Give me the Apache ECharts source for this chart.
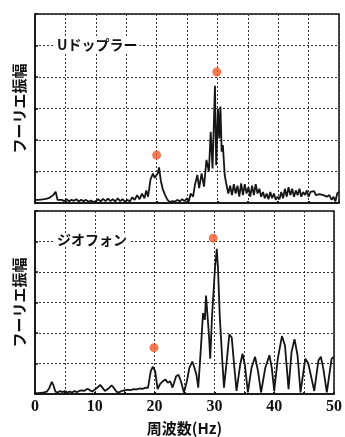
<!DOCTYPE html>
<html>
<head>
    <meta charset="utf-8">
    <title>フーリエ振幅</title>
    <style>
        html, body { margin: 0; padding: 0; background: #fff; }
        #chart { width: 345px; height: 437px; }
    </style>
    <script src="https://cdn.jsdelivr.net/npm/echarts@6.0.0/dist/echarts.min.js"></script>
</head>
<body>
    <div id="chart"></div>
    <script>
        // [frequency Hz, amplitude], amplitude in grid units (0..6)
        var dopplerSpectrum = [
            [0,0.1],[0.5,0.1],[1,0.11],[1.5,0.12],[2,0.14],[2.5,0.18],[3,0.25],[3.4,0.36],[3.7,0.1],
            [4,0.05],[4.4,0.1],[4.8,0.06],[5.2,0.12],[5.6,0.05],[6,0.1],[6.4,0.07],[6.8,0.12],[7.2,0.05],
            [7.6,0.1],[8,0.06],[8.4,0.1],[8.8,0.04],[9.2,0.08],[9.6,0.03],[10,0.06],[10.4,0.12],[10.8,0.05],
            [11.2,0.13],[11.6,0.06],[12,0.14],[12.4,0.06],[12.8,0.12],[13.2,0.05],[13.6,0.15],[14,0.06],
            [14.4,0.12],[14.8,0.04],[15.2,0.1],[15.6,0.05],[16,0.18],[16.4,0.1],[16.8,0.25],[17.2,0.12],
            [17.6,0.3],[18,0.15],[18.3,0.4],[18.6,0.2],[19,0.75],[19.4,0.93],[19.7,0.8],[20,0.76],[20.2,0.95],
            [20.4,1.13],[20.7,0.7],[21,0.45],[21.4,0.25],[21.8,0.1],[22.2,0.03],[22.6,0.06],[23,0.04],
            [23.4,0.1],[23.8,0.05],[24.2,0.12],[24.6,0.06],[25,0.15],[25.3,0.05],[25.6,0.3],[26,0.2],
            [26.3,0.57],[26.7,0.89],[27,0.47],[27.4,0.94],[27.8,0.52],[28.2,1.37],[28.6,1.0],[28.9,2.26],
            [29.2,1.1],[29.6,3.72],[29.8,1.2],[30.1,3.0],[30.3,2.05],[30.5,3.06],[30.7,1.63],[30.9,1.84],
            [31.2,0.89],[31.5,0.57],[31.8,0.3],[32.1,0.55],[32.4,0.25],[32.7,0.6],[33,0.3],[33.3,0.55],
            [33.6,0.2],[33.9,0.62],[34.2,0.25],[34.5,0.6],[34.8,0.3],[35.1,0.5],[35.4,0.2],[35.7,0.55],
            [36,0.25],[36.3,0.6],[36.6,0.3],[36.9,0.45],[37.2,0.2],[37.5,0.35],[37.8,0.15],[38.1,0.3],
            [38.4,0.12],[38.7,0.35],[39,0.15],[39.3,0.3],[39.6,0.1],[39.9,0.2],[40.2,0.12],[40.5,0.35],
            [40.8,0.15],[41.1,0.45],[41.4,0.2],[41.7,0.5],[42,0.25],[42.3,0.45],[42.6,0.2],[42.9,0.4],
            [43.2,0.25],[43.5,0.45],[43.8,0.2],[44.1,0.35],[44.4,0.25],[44.7,0.4],[45,0.2],[45.3,0.35],
            [45.6,0.3],[45.9,0.38],[46.2,0.25],[46.5,0.3],[46.8,0.28],[47.1,0.33],[47.4,0.25],[47.7,0.3],
            [48,0.2],[48.4,0.25],[48.8,0.1],[49.1,0.2],[49.4,0.05],[49.7,0.3],[50,0.35]
        ];

        var geophoneSpectrum = [
            [0,0.03],[0.5,0.03],[1,0.04],[1.5,0.05],[2,0.08],[2.4,0.2],[2.8,0.4],[3.1,0.28],[3.4,0.08],
            [3.8,0.05],[4.2,0.1],[4.6,0.06],[5,0.1],[5.4,0.05],[5.8,0.08],[6.2,0.05],[6.6,0.1],[7,0.06],
            [7.4,0.1],[7.8,0.12],[8.2,0.1],[8.8,0.17],[9.2,0.12],[9.6,0.08],[10,0.15],[10.5,0.22],[10.9,0.3],
            [11.3,0.2],[11.7,0.1],[12,0.1],[12.4,0.2],[12.8,0.28],[13.2,0.2],[13.6,0.08],[14,0.05],[14.5,0.1],
            [15,0.12],[15.5,0.14],[16,0.13],[16.5,0.16],[17,0.15],[17.5,0.18],[18,0.17],[18.5,0.21],[18.9,0.2],
            [19.35,0.74],[19.7,0.9],[20.1,0.74],[20.5,0.16],[20.9,0.32],[21.4,0.42],[21.8,0.48],[22.2,0.37],
            [22.6,0.42],[23,0.21],[23.6,0.58],[24,0.63],[24.4,0.42],[24.9,0.05],[25.4,0.42],[25.8,0.85],
            [26.3,1.06],[26.6,0.9],[27,0.63],[27.3,0.21],[27.7,1.38],[28.1,2.65],[28.4,2.43],[28.6,3.23],
            [28.9,3.23],[29.1,1.9],[29.3,1.16],[29.6,2.54],[29.9,3.49],[30.1,4.13],[30.4,4.76],[30.6,4.13],
            [30.9,2.54],[31.3,1.16],[31.6,0.21],[32.1,1.16],[32.5,1.96],[32.9,1.85],[33.3,0.95],[33.7,0.1],
            [34.3,0.95],[34.7,1.32],[35.1,0.95],[35.6,0.05],[36.2,0.85],[36.8,1.22],[37.3,0.74],[37.8,0.05],
            [38.5,0.85],[39.2,1.27],[39.6,0.85],[40,0.1],[40.6,1.16],[41.3,1.9],[41.8,1.59],[42.4,0.16],
            [42.9,1.38],[43.4,1.8],[43.9,1.27],[44.4,0.05],[45.2,1.16],[45.7,1.0],[46,1.06],[46.7,0.1],
            [47.4,1.1],[47.8,1.22],[48.2,0.85],[48.8,0.05],[49.6,1.16],[50,1.22]
        ];

        // red target dots
        var dopplerDots = [[20, 1.52], [29.9, 4.16]];
        var geophoneDots = [[19.9, 1.52], [29.8, 5.11]];

        var xTicks = [0, 10, 20, 30, 40, 50];
        var panelLabels = ['Uドップラー', 'ジオフォン'];
        var yName = 'フーリエ振幅';
        var xName = '周波数(Hz)';

        var chart = echarts.init(document.getElementById('chart'));

        var gridLine = { show: true, lineStyle: { color: '#333', width: 1, type: [2, 2] } };

        function makeX(idx, withLabels) {
            return {
                type: 'value', gridIndex: idx, min: 0, max: 50, interval: 5,
                axisLine: { show: true, onZero: false, lineStyle: { color: '#111', width: 1.5 } },
                axisTick: { show: true, inside: true, length: 2, lineStyle: { color: '#111', width: 2 } },
                splitLine: gridLine,
                axisLabel: {
                    show: withLabels, color: '#111', fontSize: 16, fontWeight: 'bold',
                    fontFamily: 'Liberation Serif', margin: 5,
                    formatter: function (v) { return xTicks.indexOf(v) >= 0 ? String(v) : ''; }
                },
                name: withLabels ? xName : '',
                nameLocation: 'middle', nameGap: 27,
                nameTextStyle: { color: '#111', fontSize: 15, fontWeight: 'bold', fontFamily: 'Noto Sans CJK JP' }
            };
        }

        function makeY(idx) {
            return {
                type: 'value', gridIndex: idx, min: 0, max: 6, interval: 1,
                axisLine: { show: true, lineStyle: { color: '#111', width: 1.5 } },
                axisTick: { show: true, inside: true, length: 3, lineStyle: { color: '#111', width: 1.5 } },
                splitLine: gridLine,
                axisLabel: { show: false },
                name: yName, nameLocation: 'middle', nameGap: 8, nameRotate: 90,
                nameTextStyle: { color: '#111', fontSize: 15, fontWeight: 'bold', fontFamily: 'Noto Sans CJK JP' }
            };
        }

        function toPairs(arr) {
            return arr.map(function (p) { return [p[0], p[1]]; });
        }

        var option = {
            animation: false,
            backgroundColor: '#fff',
            grid: [
                { left: 35, top: 14, width: 304, height: 189, show: true, borderColor: '#111', borderWidth: 1.5 },
                { left: 35, top: 211, width: 304, height: 189, show: true, borderColor: '#111', borderWidth: 1.5 }
            ],
            xAxis: [makeX(0, false), makeX(1, true)],
            yAxis: [makeY(0), makeY(1)],
            series: [
                {
                    type: 'line', xAxisIndex: 0, yAxisIndex: 0, data: toPairs(dopplerSpectrum),
                    showSymbol: false, lineStyle: { color: '#151515', width: 1.8 }, z: 3
                },
                {
                    type: 'line', xAxisIndex: 1, yAxisIndex: 1, data: toPairs(geophoneSpectrum),
                    showSymbol: false, lineStyle: { color: '#151515', width: 1.8 }, z: 3
                },
                {
                    type: 'scatter', xAxisIndex: 0, yAxisIndex: 0, data: dopplerDots,
                    symbolSize: 9, itemStyle: { color: '#ec5a2b' }, z: 4
                },
                {
                    type: 'scatter', xAxisIndex: 1, yAxisIndex: 1, data: geophoneDots,
                    symbolSize: 9, itemStyle: { color: '#ec5a2b' }, z: 4
                }
            ],
            graphic: [
                {
                    type: 'text', left: 55, top: 38, z: 10,
                    style: {
                        text: panelLabels[0], fill: '#111', fontSize: 14, fontWeight: 'bold',
                        fontFamily: 'Noto Sans CJK JP', backgroundColor: '#fff', padding: [0, 2]
                    }
                },
                {
                    type: 'text', left: 55, top: 233, z: 10,
                    style: {
                        text: panelLabels[1], fill: '#111', fontSize: 14, fontWeight: 'bold',
                        fontFamily: 'Noto Sans CJK JP', backgroundColor: '#fff', padding: [0, 2]
                    }
                }
            ]
        };

        chart.setOption(option);
    </script>
</body>
</html>
